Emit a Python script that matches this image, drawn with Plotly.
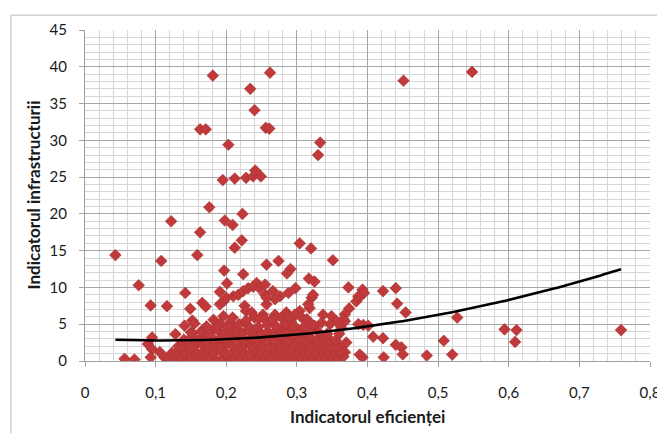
import plotly.graph_objects as go

# ---- data ----
high_x = [0.181, 0.262, 0.234, 0.240, 0.163, 0.171, 0.256, 0.261, 0.203, 0.333, 0.330,
          0.195, 0.212, 0.228, 0.238, 0.241, 0.249, 0.176, 0.223, 0.122, 0.198, 0.209,
          0.163, 0.222, 0.212, 0.043, 0.159, 0.108, 0.304, 0.320, 0.351, 0.257, 0.274,
          0.291, 0.286, 0.197, 0.224, 0.317, 0.325, 0.451, 0.548]
high_y = [38.8, 39.2, 37.0, 34.1, 31.5, 31.5, 31.7, 31.6, 29.4, 29.7, 28.0,
          24.6, 24.8, 24.9, 25.1, 25.9, 25.1, 20.9, 20.0, 19.0, 19.1, 18.5,
          17.5, 16.4, 15.4, 14.4, 14.4, 13.6, 16.0, 15.3, 13.7, 13.1, 13.6,
          12.5, 11.9, 12.3, 11.8, 11.2, 10.8, 38.1, 39.3]

mid_x = [0.076, 0.201, 0.142, 0.191, 0.243, 0.373, 0.393, 0.395, 0.422, 0.440, 0.442,
         0.454, 0.388, 0.384, 0.374, 0.368, 0.366, 0.387, 0.394, 0.401, 0.408, 0.422,
         0.440, 0.448, 0.450, 0.423, 0.389, 0.393, 0.484, 0.508, 0.520, 0.527, 0.594,
         0.611, 0.609, 0.759,
         0.093, 0.116, 0.149, 0.166, 0.171, 0.152, 0.155, 0.141, 0.150, 0.128, 0.095,
         0.089, 0.095, 0.093, 0.106, 0.113, 0.056, 0.070,
         0.177, 0.186, 0.191, 0.191, 0.196, 0.200, 0.210, 0.217, 0.224, 0.231, 0.238,
         0.247, 0.255, 0.226, 0.228, 0.236, 0.240, 0.252, 0.257, 0.255, 0.196, 0.205,
         0.214,
         0.387, 0.368, 0.363, 0.360,
         0.298, 0.288, 0.266, 0.276, 0.269, 0.321, 0.323, 0.257, 0.318, 0.316, 0.337,
         0.349, 0.356, 0.347, 0.335, 0.325, 0.304, 0.297, 0.307, 0.292, 0.285, 0.278,
         0.269, 0.262, 0.252, 0.280, 0.290,
         0.370, 0.363, 0.368, 0.361, 0.356]
mid_y = [10.3, 10.55, 9.25, 9.4, 10.6, 10.0, 9.7, 9.25, 9.5, 9.9, 7.8,
         6.6, 8.6, 8.1, 7.15, 6.35, 5.7, 5.0, 4.9, 4.8, 3.3, 3.1,
         2.2, 1.85, 0.9, 0.5, 0.87, 0.5, 0.74, 2.75, 0.87, 5.9, 4.3,
         4.2, 2.6, 4.2,
         7.55, 7.46, 7.1, 7.9, 7.4, 5.5, 5.1, 4.8, 3.9, 3.65, 3.2,
         2.3, 1.6, 0.5, 1.2, 0.43, 0.3, 0.2,
         3.9, 4.5, 5.0, 7.7, 8.1, 8.6, 8.8, 9.0, 9.5, 9.9, 10.1,
         9.9, 10.4, 7.5, 6.8, 6.6, 5.9, 6.3, 7.7, 9.0, 6.1, 5.2,
         4.5,
         8.8, 5.4, 4.5, 3.7,
         9.9, 9.25, 9.5, 8.8, 8.4, 8.6, 9.0, 8.6, 7.2, 7.7, 6.3,
         6.1, 5.4, 5.0, 5.2, 4.8, 6.8, 6.3, 5.9, 5.7, 6.6, 5.9,
         6.3, 5.4, 5.9, 4.5, 4.1,
         2.5, 1.85, 1.2, 0.74, 1.85]

# dense cluster near the bottom, row by row
row_a_x = [0.118, 0.127, 0.136, 0.144, 0.152, 0.161, 0.169, 0.178, 0.186, 0.195, 0.203,
           0.212, 0.221, 0.229, 0.238, 0.246, 0.255, 0.263, 0.272, 0.281, 0.289, 0.298,
           0.306, 0.315, 0.323, 0.332, 0.341, 0.349, 0.358, 0.366]
row_a_y = [0.4, 0.2, 0.5, 0.1, 0.3, 0.6, 0.2, 0.4, 0.1, 0.3, 0.5,
           0.2, 0.4, 0.1, 0.3, 0.6, 0.2, 0.4, 0.1, 0.3, 0.5, 0.2,
           0.4, 0.1, 0.3, 0.5, 0.2, 0.4, 0.3, 0.6]
row_b_x = [0.123, 0.131, 0.140, 0.148, 0.157, 0.165, 0.174, 0.182, 0.191, 0.199, 0.208,
           0.216, 0.225, 0.233, 0.242, 0.250, 0.259, 0.268, 0.276, 0.285, 0.293, 0.302,
           0.310, 0.319, 0.327, 0.336, 0.345, 0.353, 0.362]
row_b_y = [1.1, 1.3, 1.0, 1.4, 1.2, 1.0, 1.3, 1.1, 1.4, 1.0, 1.2,
           1.3, 1.1, 1.0, 1.4, 1.2, 1.1, 1.3, 1.0, 1.2, 1.4, 1.1,
           1.3, 1.0, 1.2, 1.4, 1.1, 1.3, 1.2]
row_c_x = [0.132, 0.141, 0.150, 0.158, 0.167, 0.176, 0.184, 0.193, 0.201, 0.210, 0.219,
           0.227, 0.236, 0.244, 0.253, 0.261, 0.270, 0.279, 0.287, 0.296, 0.304, 0.313,
           0.321, 0.330, 0.339, 0.347, 0.356]
row_c_y = [2.0, 2.2, 1.9, 2.3, 2.1, 1.9, 2.2, 2.0, 2.3, 2.1, 1.9,
           2.2, 2.0, 2.3, 2.1, 1.9, 2.2, 2.0, 2.3, 2.1, 1.9, 2.2,
           2.0, 2.3, 2.1, 1.9, 2.1]
row_d_x = [0.140, 0.149, 0.158, 0.166, 0.175, 0.184, 0.192, 0.201, 0.209, 0.218, 0.226,
           0.235, 0.243, 0.252, 0.261, 0.269, 0.278, 0.286, 0.295, 0.303, 0.312, 0.320,
           0.329, 0.338, 0.346, 0.355]
row_d_y = [2.9, 3.1, 2.8, 3.2, 3.0, 2.8, 3.1, 2.9, 3.2, 3.0, 2.8,
           3.1, 2.9, 3.2, 3.0, 2.8, 3.1, 2.9, 3.2, 3.0, 2.8, 3.1,
           2.9, 3.2, 3.0, 2.8]
row_e_x = [0.152, 0.164, 0.176, 0.189, 0.198, 0.207, 0.216, 0.224, 0.233, 0.242, 0.250,
           0.259, 0.267, 0.276, 0.285, 0.294, 0.302, 0.311, 0.320, 0.331, 0.343]
row_e_y = [3.8, 4.0, 3.7, 4.1, 3.9, 3.7, 4.0, 3.8, 4.1, 3.9, 3.7,
           4.0, 3.8, 4.1, 3.9, 3.7, 4.0, 3.8, 4.1, 3.9, 3.7]
row_f_x = [0.172, 0.188, 0.203, 0.218, 0.231, 0.245, 0.258, 0.271, 0.284, 0.296, 0.310, 0.322]
row_f_y = [4.7, 4.9, 4.6, 5.0, 4.8, 4.6, 4.9, 4.7, 5.0, 4.8, 4.6, 4.9]
row_g_x = [0.182, 0.209, 0.228, 0.247, 0.266, 0.289, 0.314]
row_g_y = [5.6, 5.9, 5.5, 5.8, 5.6, 5.9, 5.7]

# polynomial (order 2) trend line, coefficients
trend_coef = [3.07, -5.22, 23.22]   # a + b*x + c*x^2
trend_range = [0.043, 0.759]

x_ticks = [0, 0.1, 0.2, 0.3, 0.4, 0.5, 0.6, 0.7, 0.8]
x_tick_labels = ["0", "0,1", "0,2", "0,3", "0,4", "0,5", "0,6", "0,7", "0,8"]
y_ticks = [0, 5, 10, 15, 20, 25, 30, 35, 40, 45]
y_tick_labels = ["0", "5", "10", "15", "20", "25", "30", "35", "40", "45"]

x_title = "Indicatorul eficienței"
y_title = "Indicatorul infrastructurii"

# ---- build ----
all_x = high_x + mid_x + row_a_x + row_b_x + row_c_x + row_d_x + row_e_x + row_f_x + row_g_x
all_y = high_y + mid_y + row_a_y + row_b_y + row_c_y + row_d_y + row_e_y + row_f_y + row_g_y

n = 200
tx = [trend_range[0] + (trend_range[1] - trend_range[0]) * i / (n - 1) for i in range(n)]
ty = [trend_coef[0] + trend_coef[1] * v + trend_coef[2] * v * v for v in tx]

fig = go.Figure()
fig.add_trace(go.Scatter(
    x=all_x, y=all_y, mode="markers",
    marker=dict(symbol="diamond", size=9, color="#C0393B",
                line=dict(width=0.6, color="#A83232")),
    showlegend=False, hoverinfo="skip"))
fig.add_trace(go.Scatter(
    x=tx, y=ty, mode="lines", line=dict(color="black", width=2.6),
    showlegend=False, hoverinfo="skip"))

font_family = "Lato, 'Open Sans', sans-serif"
txt_color = "#1a1a1a"

# the page body adds an 8px offset, margins compensate for it
fig.update_layout(
    width=665, height=433,
    margin=dict(l=77, r=23, t=18, b=80),
    paper_bgcolor="white", plot_bgcolor="white",
    font=dict(family=font_family, size=15, color=txt_color),
    xaxis=dict(range=[0, 0.8], tickvals=x_ticks, ticktext=x_tick_labels,
               showgrid=True, gridcolor="#A6A6A6", gridwidth=1,
               minor=dict(dtick=0.02, showgrid=True, gridcolor="#D6D6D6", gridwidth=1),
               showline=True, linecolor="#A0A0A0", linewidth=1,
               ticks="outside", ticklen=5, tickcolor="#A0A0A0",
               ticklabelstandoff=13, zeroline=False, fixedrange=True),
    yaxis=dict(range=[0, 45], tickvals=y_ticks, ticktext=y_tick_labels,
               showgrid=True, gridcolor="#A6A6A6", gridwidth=1,
               minor=dict(dtick=1, showgrid=True, gridcolor="#D6D6D6", gridwidth=1),
               showline=True, linecolor="#A0A0A0", linewidth=1,
               ticks="outside", ticklen=5, tickcolor="#A0A0A0",
               ticklabelstandoff=9, zeroline=False, fixedrange=True),
    annotations=[
        dict(text="<b>" + x_title + "</b>", xref="paper", yref="paper",
             x=0.5, y=-0.167, showarrow=False,
             font=dict(size=17, family=font_family, color=txt_color),
             xanchor="center", yanchor="middle"),
        dict(text="<b>" + y_title + "</b>", xref="paper", yref="paper",
             x=-0.092, y=0.5, showarrow=False, textangle=-90,
             font=dict(size=17, family=font_family, color=txt_color),
             xanchor="center", yanchor="middle"),
    ],
    shapes=[dict(type="rect", xref="paper", yref="paper",
                 x0=-0.131, x1=1.06, y0=-0.35, y1=1.0448,
                 line=dict(color="#D0D0D0", width=1.5), layer="above")],
)

fig.write_html("out.html")
